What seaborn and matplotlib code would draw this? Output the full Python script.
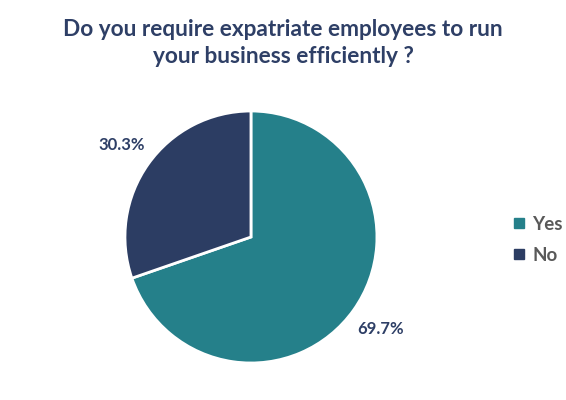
import matplotlib
matplotlib.use("Agg")
import matplotlib.pyplot as plt
from matplotlib.lines import Line2D
import seaborn as sns

sns.set_theme(style="white")
plt.rcParams["font.family"] = ["Lato", "DejaVu Sans"]
plt.rcParams["font.weight"] = "bold"

labels = ["Yes", "No"]
shares = [69.7, 30.3]
colors = ["#25808A", "#2C3D63"]
title_color = "#2E3F66"

fig = plt.figure(figsize=(5.66, 4.0), dpi=100)
fig.patch.set_facecolor("white")

ax = fig.add_axes([0.2208, 0.0925, 0.4452, 0.63])
wedges, texts, autotexts = ax.pie(
    shares, colors=colors, startangle=90, counterclock=False,
    autopct="%.1f%%", pctdistance=1.26, radius=1,
    wedgeprops=dict(edgecolor="white", linewidth=2),
    textprops=dict(color="#2E3F66", fontsize=12, fontweight="bold"),
)
ax.set_xlim(-1, 1)
ax.set_ylim(-1, 1)
ax.set_aspect("auto")
ax.axis("off")

fig.suptitle("Do you require expatriate employees to run\nyour business efficiently ?",
             x=0.5, y=0.952, fontsize=16.3, fontweight="bold",
             color=title_color, linespacing=1.35)

handles = [Line2D([0], [0], marker="s", linestyle="", markersize=7,
                  markerfacecolor=c, markeredgecolor=c) for c in colors]
leg = fig.legend(handles, labels, loc="center left",
                 bbox_to_anchor=(0.874, 0.4), frameon=False,
                 fontsize=13.5, labelcolor="#595959", handletextpad=0.3,
                 labelspacing=0.75, handlelength=0.8)
for t in leg.get_texts():
    t.set_fontweight("bold")

fig.savefig("out.png", dpi=100)
